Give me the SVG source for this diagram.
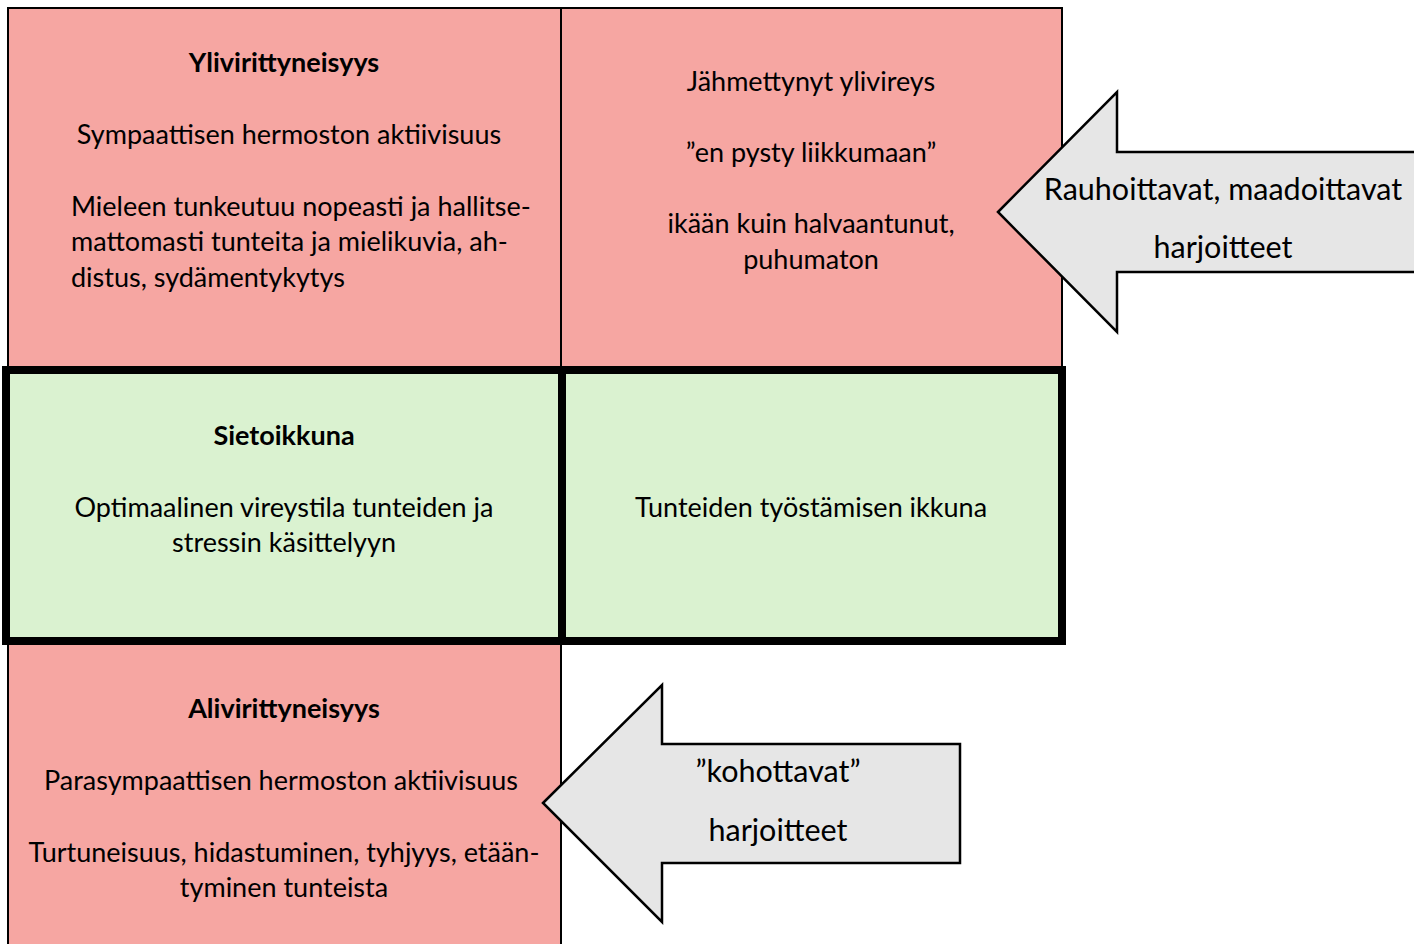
<svg xmlns="http://www.w3.org/2000/svg" width="1414" height="944" viewBox="0 0 1414 944">
<style>
.pink{fill:#f6a6a2;stroke:#000;stroke-width:2}
.green{fill:#daf2d0;stroke:#000;stroke-width:8}
.arrow{fill:#e6e6e6;stroke:#000;stroke-width:2.5;stroke-linejoin:miter}
text{font-family:Lato,"Liberation Sans",sans-serif;font-size:27px;fill:#000}
.c{text-anchor:middle}
.b{font-weight:bold}
.a{font-size:30.5px}
</style>
<rect width="1414" height="944" fill="#fff"/>
<g id="cell-yli">
<rect class="pink" x="8" y="8" width="553" height="360"/>
<text class="c b" x="284" y="72">Ylivirittyneisyys</text>
<text class="c" x="289" y="144">Sympaattisen hermoston aktiivisuus</text>
<text x="71" y="216">Mieleen tunkeutuu nopeasti ja hallitse-</text>
<text x="71" y="251">mattomasti tunteita ja mielikuvia, ah-</text>
<text x="71" y="287">distus, sydämentykytys</text>
</g>
<g id="cell-jahmettynyt">
<rect class="pink" x="561" y="8" width="501" height="360"/>
<text class="c" x="811" y="91">Jähmettynyt ylivireys</text>
<text class="c" x="811" y="162">”en pysty liikkumaan”</text>
<text class="c" x="811" y="233">ikään kuin halvaantunut,</text>
<text class="c" x="811" y="269">puhumaton</text>
</g>
<g id="cell-ali">
<rect class="pink" x="8" y="641" width="553" height="310"/>
<text class="c b" x="284" y="718">Alivirittyneisyys</text>
<text class="c" x="281" y="790">Parasympaattisen hermoston aktiivisuus</text>
<text class="c" x="284" y="862">Turtuneisuus, hidastuminen, tyhjyys, etään-</text>
<text class="c" x="284" y="897">tyminen tunteista</text>
</g>
<g id="cell-sieto">
<rect class="green" x="6" y="370" width="556" height="271"/>
<text class="c b" x="284" y="445">Sietoikkuna</text>
<text class="c" x="284" y="517">Optimaalinen vireystila tunteiden ja</text>
<text class="c" x="284" y="552">stressin käsittelyyn</text>
</g>
<g id="cell-tyostaminen">
<rect class="green" x="562" y="370" width="500" height="271"/>
<text class="c" x="811" y="517">Tunteiden työstämisen ikkuna</text>
</g>
<g id="connectors">
<g id="arrow-rauhoittavat">
<polygon class="arrow" points="998,212 1117,92 1117,152 1420,152 1420,272 1117,272 1117,332"/>
<text class="c a" x="1223" y="200">Rauhoittavat, maadoittavat</text>
<text class="c a" x="1223" y="258">harjoitteet</text>
</g>
<g id="arrow-kohottavat">
<polygon class="arrow" points="543,803 662,685 662,744 960,744 960,863 662,863 662,922"/>
<text class="c a" x="778" y="782">”kohottavat”</text>
<text class="c a" x="778" y="841">harjoitteet</text>
</g>
</g>
</svg>
